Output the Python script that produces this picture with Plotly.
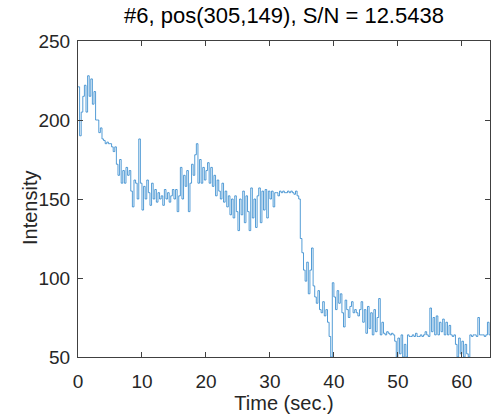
import plotly.graph_objects as go

intensity = [
    221, 190, 205, 215,  222, 205, 228, 215,  226, 210, 218, 200,
    200, 192, 195, 188,  187, 185, 186, 185,  185, 183, 180, 183,
    172, 165, 175, 160,  168, 160, 170, 165,  168, 155, 145, 162,
    160, 150, 188, 160,  143, 158, 150, 162,  154, 146, 160, 150,
    156, 148, 154, 150,  152, 146, 156, 150,  154, 148, 152, 156,
    150, 156, 142, 152,  170, 150, 165, 158,  168, 142, 160, 172,
    165, 178, 185, 160,  175, 160, 170, 162,  168, 173, 160, 170,
    158, 165, 152, 162,  155, 150, 160, 148,  155, 145, 152, 140,
    150, 138, 152, 142,  130, 150, 140, 155,  135, 152, 142, 130,
    157, 138, 150, 132,  152, 157, 135, 155,  143, 156, 138, 155,
    150, 155, 145, 154,  154, 152, 155, 154,  155, 154, 154, 155,
    154, 155, 154, 153,  155, 152, 150, 125,  116, 105, 98, 110,
    90, 105, 119, 95,    88, 84, 92, 80,     78, 85, 76, 80,
    72, 63, 50, 97,      88, 80, 92, 84,     90, 78, 69, 86,
    80, 75, 82, 85,      78, 80, 78, 76,     80, 85, 72, 80,
    65, 82, 68, 78,      64, 80, 66, 75,     87, 64, 72, 65,
    64, 66, 65, 64,      65, 64, 60, 50,     62, 52, 64, 50,
    58, 50, 64, 63,      63, 64, 63, 65,     63, 63, 64, 63,
    64, 66, 64, 63,      81, 66, 75, 64,     76, 64, 72, 66,
    74, 64, 72, 64,      70, 64, 63, 64,     58, 50, 62, 52,
    60, 50, 58, 52,      50, 64, 63, 64,     64, 63, 75, 64,
    64, 64, 63, 64,      72, 64, 64, 63,
]
time_step = 0.25
time = [i * time_step for i in range(len(intensity))]

x_ticks = [0, 10, 20, 30, 40, 50, 60]
y_ticks = [50, 100, 150, 200, 250]
title_text = "#6, pos(305,149), S/N = 12.5438"
x_label = "Time (sec.)"
y_label = "Intensity"

FONT = "Liberation Sans, Arial"
W, H = 495, 419
ML, MR, MT, MB = 78, 5, 41, 62

fig = go.Figure()
fig.add_trace(go.Scatter(
    x=time, y=intensity, mode="lines",
    line=dict(color="#2a84cc", width=0.8, shape="hv"),
    showlegend=False, hoverinfo="skip",
))

axis_common = dict(
    showgrid=False, zeroline=False, showline=True, linecolor="#404040",
    linewidth=1, ticks="inside", ticklen=5, tickcolor="#404040",
    mirror="ticks", automargin=False,
    tickfont=dict(family=FONT, size=19, color="#262626"),
)

plot_w = W - ML - MR
plot_h = H - MT - MB

fig.update_layout(
    width=W, height=H,
    margin=dict(l=ML, r=MR, t=MT, b=MB, autoexpand=False),
    paper_bgcolor="white", plot_bgcolor="white",
    title=dict(text=title_text, x=0.5, xref="paper", y=1 - 15 / H, yref="container",
               xanchor="center", yanchor="middle",
               font=dict(family=FONT, size=22, color="#000000")),
    xaxis=dict(range=[0, 64.4], tickvals=x_ticks, ticklabelstandoff=7,
               title=dict(text=x_label, standoff=0,
                          font=dict(family=FONT, size=20, color="#262626")),
               **axis_common),
    yaxis=dict(range=[50, 250], tickvals=y_ticks, ticklabelstandoff=3,
               **axis_common),
    annotations=[dict(
        text=y_label, textangle=-90, showarrow=False,
        xref="paper", yref="paper",
        x=(30 - ML) / plot_w, y=(H - MB - 208) / plot_h,
        xanchor="center", yanchor="middle",
        font=dict(family=FONT, size=20, color="#262626"),
    )],
)

fig.write_html("out.html", config={"displayModeBar": False},
               post_script="document.body.style.margin='0';")
